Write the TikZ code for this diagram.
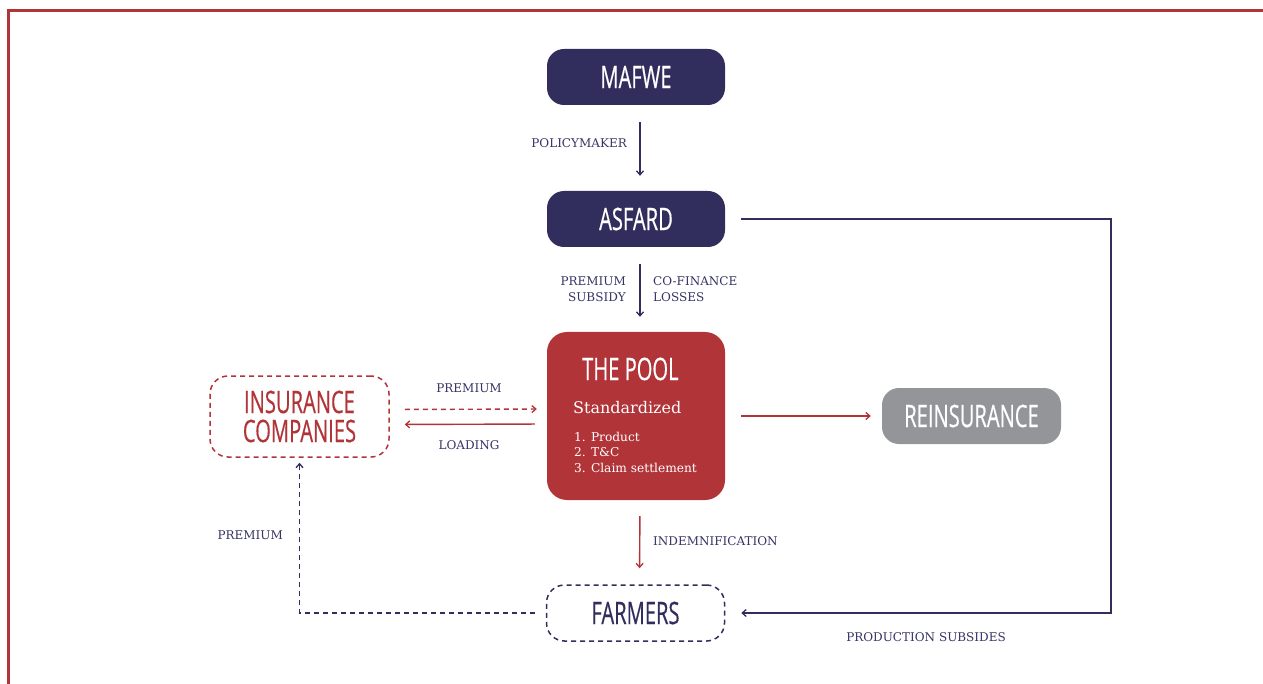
\documentclass[tikz,border=0pt]{standalone}
\usepackage{fontspec}
\setmainfont{DejaVu Serif}
\newfontfamily\boxfont[FakeStretch=0.65,FakeBold=0.4]{Open Sans}
\usetikzlibrary{arrows.meta,calc}
\definecolor{navy}{RGB}{49,46,94}
\definecolor{poolred}{RGB}{177,52,57}
\definecolor{reingray}{RGB}{147,149,152}
\definecolor{labelc}{RGB}{55,52,100}
\tikzset{
  boxtext/.style={font=\boxfont\fontsize{31}{32}\selectfont},
  solidbox/.style={rounded corners=17pt, minimum width=178pt, minimum height=56pt, inner sep=0pt,
    text=white, boxtext},
  dashbox/.style={rounded corners=18pt, minimum width=178pt, inner sep=0pt, line width=1.5pt,
    dash pattern=on 5pt off 4pt, boxtext, align=center},
  lbl/.style={text=labelc, font=\fontsize{12}{16}\selectfont, inner sep=0pt},
  tip/.style={-{Straight Barb[length=4pt,width=7pt,line width=1.3pt]}},
  navyarr/.style={tip, draw=navy, line width=1.4pt},
  redarr/.style={tip, draw=poolred, line width=1.4pt},
}
\begin{document}
\begin{tikzpicture}[x=1pt,y=-1pt]
\useasboundingbox (0,0) rectangle (1263,684);
% frame
\draw[poolred, line width=3pt] (8,684) -- (8,11) -- (1263,11);

% nodes
\node[solidbox, fill=navy] (mafwe) at (636,77) {MAFWE};
\node[solidbox, fill=navy] (asfard) at (636,219) {ASFARD};
\node[rounded corners=20pt, fill=poolred, minimum width=178pt, minimum height=168pt] (pool) at (636,416) {};
\node[solidbox, fill=reingray, minimum width=179pt] (reins) at (971.5,416) {REINSURANCE};
\node[dashbox, draw=poolred, text=poolred, minimum height=81pt, minimum width=179pt] (ins) at (299.5,416.5) {INSURANCE\\[-3pt]COMPANIES};
\node[dashbox, draw=navy, text=navy, minimum height=56pt] (farmers) at (635.5,613) {FARMERS};

% pool texts
\node[anchor=west, inner sep=0pt, text=white, boxtext] (pooltitle) at (582,369) {THE POOL};
\node[anchor=west, inner sep=0pt, text=white, font=\fontsize{16}{18}\selectfont] (poolstd) at (573,408) {Standardized};
\node[anchor=north west, inner sep=0pt, text=white, font=\fontsize{12.2}{15.5}\selectfont, align=left] (poollist) at (574,432) {1. Product\\2. T\&C\\3. Claim settlement};

% connectors
\draw[navyarr, shorten <=17pt, shorten >=15pt] ([xshift=4pt]mafwe.south) -- ([xshift=4pt]asfard.north);
\draw[navyarr, shorten <=17pt, shorten >=15pt] ([xshift=4pt]asfard.south) -- ([xshift=4pt]pool.north);
\draw[redarr, shorten <=16pt, shorten >=16pt] ([xshift=4pt]pool.south) -- ([xshift=4pt]farmers.north);
\draw[redarr, dash pattern=on 5pt off 4pt, shorten <=15pt, shorten >=10pt] ([yshift=7pt]ins.east) -- ([yshift=7pt]pool.west);
\draw[redarr, shorten <=12pt, shorten >=15pt] ([yshift=-8pt]pool.west) -- ([yshift=-8pt]ins.east);
\draw[redarr, shorten <=16pt, shorten >=11pt] (pool.east) -- (reins.west);
\draw[navyarr, dash pattern=on 5pt off 4pt, shorten <=11pt, shorten >=5pt] (farmers.west) -| (ins.south);
\coordinate (turn) at (1111,0);
\draw[navyarr, shorten <=16pt, shorten >=16pt] (asfard.east) -- (asfard.east -| turn) -- (farmers.east -| turn) -- (farmers.east);

% labels
\node[lbl, anchor=east] (l1) at (627,143) {POLICYMAKER};
\node[lbl, anchor=east, align=right] (l2) at (626,289) {PREMIUM\\SUBSIDY};
\node[lbl, anchor=west, align=left] (l3) at (653,289) {CO-FINANCE\\LOSSES};
\node[lbl] (l4) at (469,388) {PREMIUM};
\node[lbl] (l5) at (469,445) {LOADING};
\node[lbl, anchor=west] (l6) at (653,541) {INDEMNIFICATION};
\node[lbl, anchor=east] (l7) at (283,535) {PREMIUM};
\node[lbl] (l8) at (926,637) {PRODUCTION SUBSIDES};
\end{tikzpicture}
\end{document}
